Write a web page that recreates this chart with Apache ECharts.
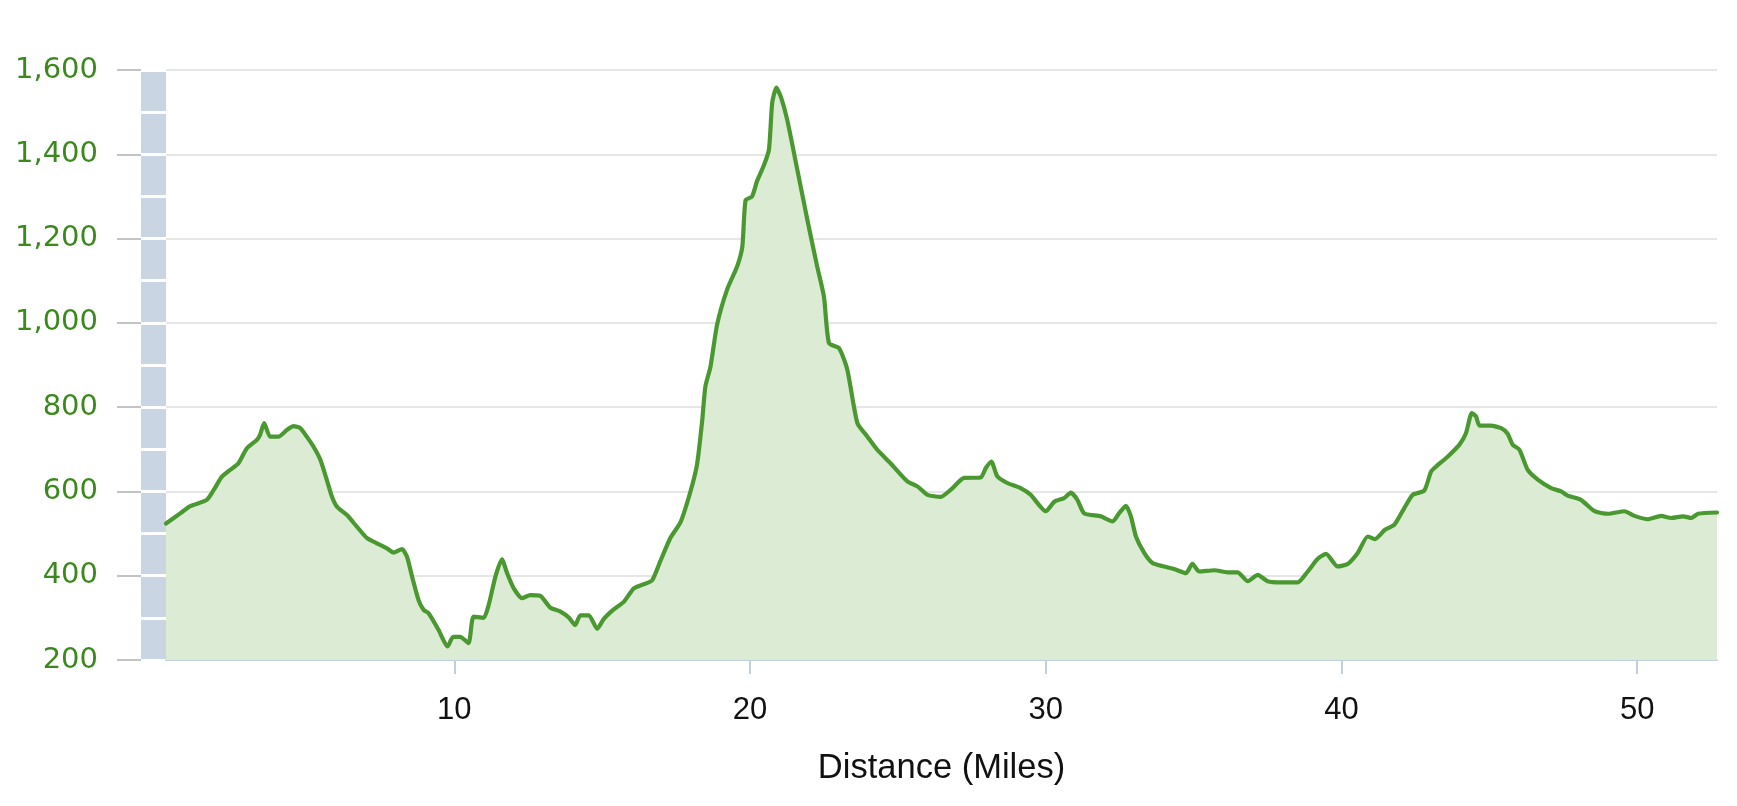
<!DOCTYPE html>
<html>
<head>
<meta charset="utf-8">
<script src="https://cdn.jsdelivr.net/npm/echarts@6/dist/echarts.min.js"></script>
<style>
html,body{margin:0;padding:0;background:#fff;}
#chart{width:1737px;height:806px;}
</style>
</head>
<body>
<div id="chart"></div>
<script>
// Distance along route (miles)
const distances = [
0.25,0.73,1.07,1.63,1.86,2.14,2.42,2.70,2.98,3.32,3.43,3.57,3.77,4.05,4.34,4.56,4.79,5.01,5.24,5.47,
5.69,5.86,6.03,6.37,6.71,7.05,7.38,7.72,7.95,8.23,8.40,8.57,8.79,8.96,9.13,9.47,9.77,9.96,10.20,10.48,
10.65,10.99,11.16,11.39,11.61,11.78,12.01,12.29,12.57,12.91,13.25,13.59,13.87,14.09,14.26,14.55,14.83,15.05,15.39,15.73,
16.07,16.41,16.69,16.97,17.31,17.65,17.99,18.21,18.38,18.49,18.66,18.89,19.23,19.57,19.74,19.85,20.07,20.24,20.47,20.64,
20.75,20.89,21.05,21.26,21.60,21.94,22.27,22.50,22.67,23.01,23.29,23.63,23.97,24.30,24.75,25.32,25.66,26.00,26.45,26.79,
27.24,27.80,27.97,28.16,28.36,28.70,29.15,29.49,30.00,30.30,30.62,30.85,31.07,31.30,31.86,32.26,32.49,32.71,32.88,33.05,
33.33,33.61,34.00,34.34,34.74,34.96,35.19,35.70,36.15,36.49,36.83,37.17,37.50,37.95,38.52,38.86,39.20,39.48,39.87,40.21,
40.55,40.89,41.13,41.47,41.79,42.12,42.41,42.80,43.03,43.20,43.60,43.99,44.21,44.41,44.55,44.67,45.06,45.40,45.62,45.79,
46.02,46.30,46.64,47.09,47.43,47.65,48.10,48.56,49.01,49.57,49.91,50.36,50.81,51.15,51.55,51.83,52.06,52.70
];
// Elevation (feet)
const elevations = [
524,548,565,580,603,635,651,667,702,722,734,762,730,730,746,755,750,730,706,675,
627,588,564,544,516,489,477,465,455,463,445,398,342,319,311,271,232,255,255,240,
303,300,330,398,439,407,370,347,354,352,324,315,301,283,306,306,274,297,320,338,
370,380,389,435,490,527,601,665,766,849,895,997,1080,1135,1181,1291,1300,1337,1374,1411,
1522,1558,1535,1481,1363,1244,1134,1062,952,940,889,762,730,699,667,624,612,592,587,604,
632,633,655,671,636,620,608,592,553,576,584,597,580,548,541,529,549,566,541,493,
454,430,422,416,406,428,410,413,408,408,387,402,387,384,384,410,440,452,422,428,
454,493,487,509,521,560,592,602,647,659,683,711,738,786,778,756,756,750,737,711,
699,651,628,608,600,590,580,553,547,553,542,534,542,537,541,537,547,550
];
const xTickValues = [10, 20, 30, 40, 50];
const yMin = 200, yMax = 1600, yStep = 200;
const xAxisTitle = 'Distance (Miles)';

const seriesData = distances.map((d, i) => [d, elevations[i]]);

const chart = echarts.init(document.getElementById('chart'), null, {renderer: 'canvas'});
chart.setOption({
  animation: false,
  backgroundColor: '#ffffff',
  grid: [
    {left: 166, right: 20, top: 70, bottom: 146, containLabel: false},
    {left: 141, width: 25, top: 70, bottom: 146, show: true, backgroundColor: '#c9d5e3', borderWidth: 0}
  ],
  xAxis: [
    {
      gridIndex: 0,
      type: 'value',
      min: distances[0],
      max: distances[distances.length - 1],
      name: xAxisTitle,
      nameLocation: 'middle',
      nameGap: 91,
      nameTextStyle: {color: '#111', fontFamily: 'Liberation Sans', fontSize: 34.5},
      axisLine: {show: true, lineStyle: {color: '#c0d0e0', width: 2}},
      axisTick: {show: true, customValues: xTickValues, length: 14, lineStyle: {color: '#c0d0e0', width: 2}},
      axisLabel: {customValues: xTickValues, color: '#111', fontFamily: 'Liberation Sans', fontSize: 31, margin: 35},
      splitLine: {show: false}
    },
    {
      gridIndex: 1, type: 'value', min: 0, max: 1,
      axisLine: {show: false}, axisTick: {show: false}, axisLabel: {show: false}, splitLine: {show: false}
    }
  ],
  yAxis: [
    {
      gridIndex: 0,
      type: 'value',
      min: yMin, max: yMax, interval: yStep,
      offset: 25,
      axisLine: {show: false},
      axisTick: {show: true, length: 24, lineStyle: {color: '#c4c4c4', width: 2}},
      axisLabel: {
        color: '#3b881c', fontFamily: 'DejaVu Sans', fontSize: 29, margin: 43,
        formatter: v => v.toLocaleString('en-US')
      },
      splitLine: {show: true, lineStyle: {color: '#e6e6e6', width: 2}}
    },
    {
      gridIndex: 1,
      type: 'value',
      min: yMin, max: yMax, interval: 100,
      axisLine: {show: false}, axisTick: {show: false}, axisLabel: {show: false},
      splitLine: {show: true, lineStyle: {color: '#ffffff', width: 3}}
    }
  ],
  series: [{
    type: 'line',
    xAxisIndex: 0,
    yAxisIndex: 0,
    data: seriesData,
    showSymbol: false,
    smooth: 0.2,
    lineStyle: {color: '#4a9830', width: 4.2, join: 'round', cap: 'round'},
    areaStyle: {color: '#dcebd4', opacity: 1, origin: 'start'},
    z: 3
  }]
});
</script>
</body>
</html>
